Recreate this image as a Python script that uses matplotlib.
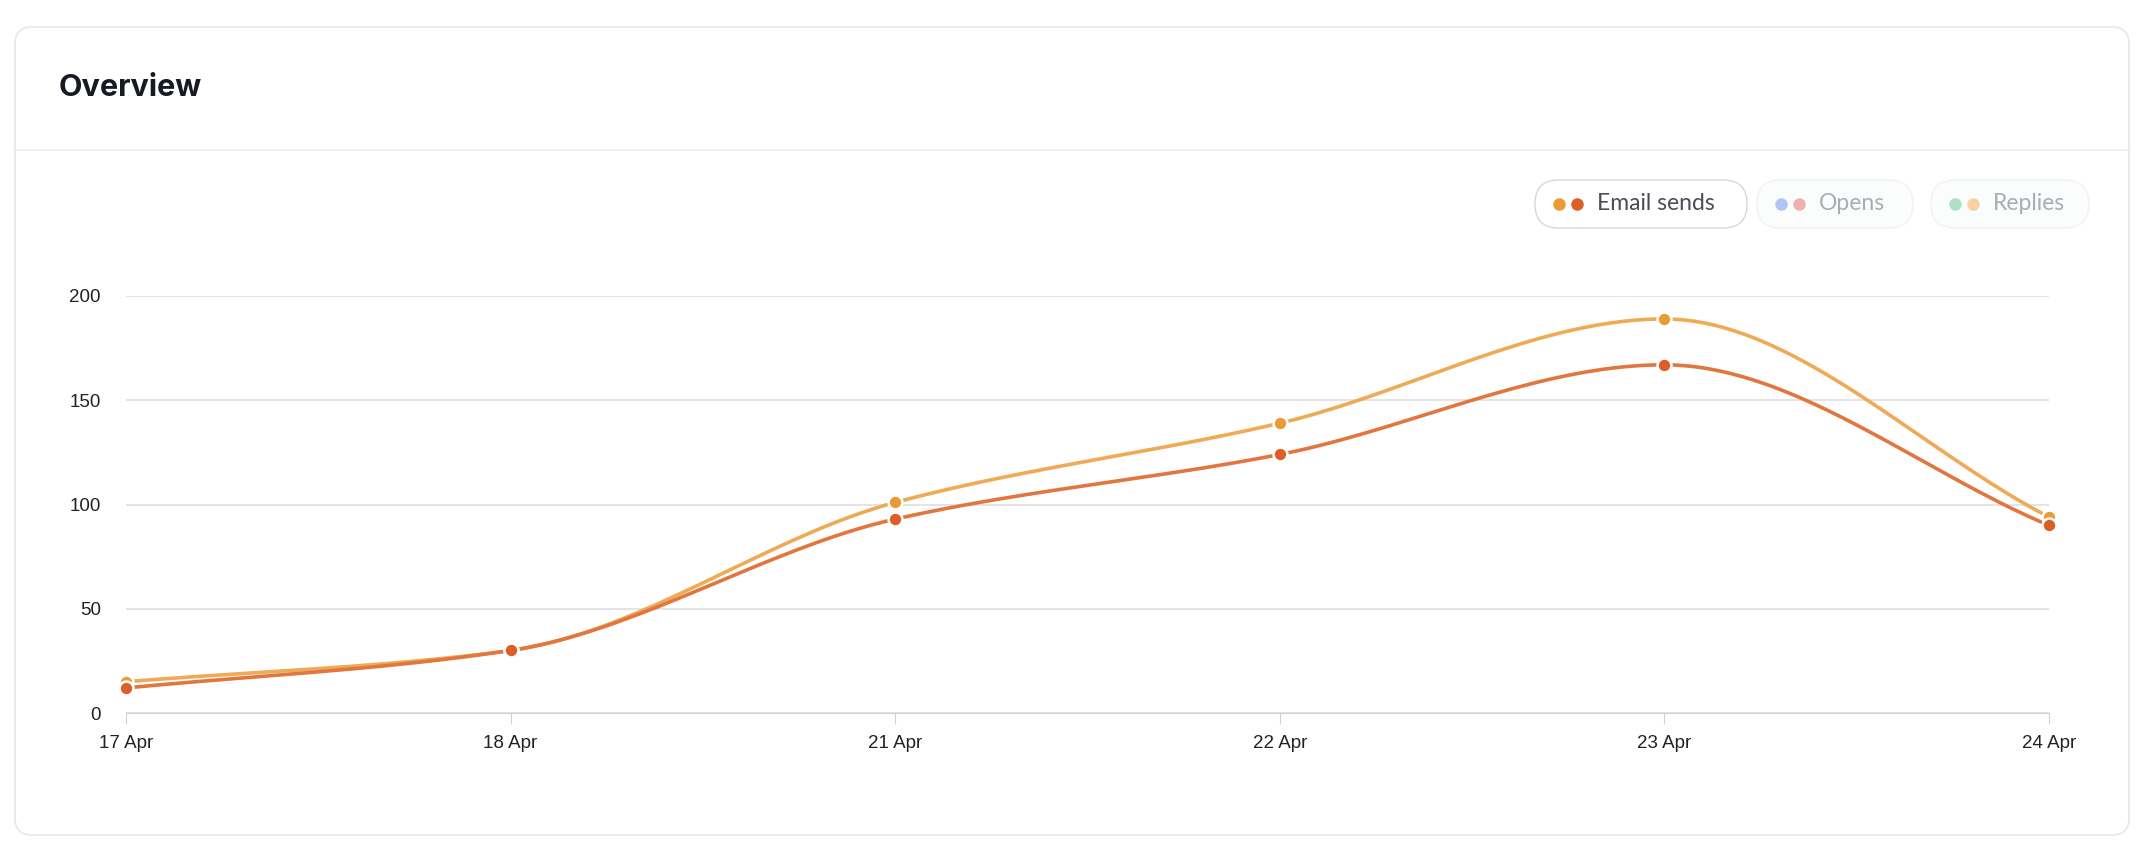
import numpy as np
import matplotlib.pyplot as plt
from matplotlib.patches import FancyBboxPatch

days = ['17 Apr', '18 Apr', '21 Apr', '22 Apr', '23 Apr', '24 Apr']
sends_a = [15, 30, 101, 139, 189, 94]
sends_b = [12, 30, 93, 124, 167, 90]
yticks = [0, 50, 100, 150, 200]

W, H = 2146, 850
plt.rcParams['font.family'] = ['Liberation Sans', 'DejaVu Sans']


def monotone(x, y, n=40):
    # Fritsch-Carlson monotone cubic, used for the smooth line path
    x = np.asarray(x, float); y = np.asarray(y, float)
    h = np.diff(x); d = np.diff(y) / h
    m = np.zeros_like(y)
    m[0], m[-1] = d[0], d[-1]
    for i in range(1, len(y) - 1):
        if d[i - 1] * d[i] <= 0:
            m[i] = 0
        else:
            m[i] = 2 / (1 / d[i - 1] + 1 / d[i])
    xs, ys = [], []
    for i in range(len(h)):
        t = np.linspace(0, 1, n)
        h00 = 2*t**3 - 3*t**2 + 1; h10 = t**3 - 2*t**2 + t
        h01 = -2*t**3 + 3*t**2; h11 = t**3 - t**2
        xs.append(x[i] + t*h[i])
        ys.append(h00*y[i] + h10*h[i]*m[i] + h01*y[i+1] + h11*h[i]*m[i+1])
    return np.concatenate(xs), np.concatenate(ys)


fig = plt.figure(figsize=(W/100, H/100), dpi=100)
fig.patch.set_facecolor('white')

card = FancyBboxPatch((15/W, 15/H), (2129-15)/W, (823-15)/H,
                      boxstyle='round,pad=0,rounding_size=0.008',
                      transform=fig.transFigure, facecolor='white',
                      edgecolor='#e6e7ea', linewidth=1.2, mutation_aspect=W/H,
                      zorder=-10)
fig.patches.append(card)
fig.add_artist(plt.Line2D([15/W, 2129/W], [1-150/H]*2, color='#eceef0', lw=1.2))
fig.text(59/W, 1-88/H, 'Overview', fontsize=22, fontweight='bold', color='#161a22',
         va='center', family=['Inter', 'DejaVu Sans'])

# legend pills
pills = [('Email sends', ['#ec9a36', '#dd5f28'], '#4a4d57', 1535, 1747, True),
         ('Opens', ['#aec5f5', '#eeb1ab'], '#a9acb3', 1757, 1913, False),
         ('Replies', ['#b0dfc7', '#f6d3a0'], '#a9acb3', 1931, 2089, False)]
for label, cols, tc, x0, x1, active in pills:
    p = FancyBboxPatch((x0/W, 1-228/H), (x1-x0)/W, 48/H,
                       boxstyle='round,pad=0,rounding_size=0.011',
                       transform=fig.transFigure, mutation_aspect=W/H,
                       facecolor='white' if active else '#fbfcfc',
                       edgecolor='#d6d7da' if active else '#f1f3f3', lw=1.0,
                       zorder=-5)
    fig.patches.append(p)
    cy = 1-204/H
    for k, c in enumerate(cols):
        fig.add_artist(plt.Line2D([(x0+24+k*18)/W], [cy], marker='o', ms=9,
                                  color=c, mec='none'))
    fig.text((x0+62)/W, cy, label, fontsize=16.5, color=tc, va='center',
             family=['Lato', 'DejaVu Sans'])

ax = fig.add_axes([126/W, 1-713/H, (2049-126)/W, (713-296)/H])
x = np.arange(len(days))
for vals, c, lc in [(sends_a, '#ec9a36', '#eeaa55'), (sends_b, '#dd5f28', '#e2763f')]:
    xs, ys = monotone(x, vals)
    ax.plot(xs, ys, color=lc, lw=2.6, zorder=3, solid_capstyle='round', clip_on=False)
    ax.plot(x, vals, 'o', ms=10, color=c, mec='white', mew=1.8, zorder=4, clip_on=False)

ax.set_xlim(0, len(days) - 1)
ax.set_ylim(0, 200)
ax.set_yticks(yticks)
ax.set_xticks(x, days)
ax.grid(axis='y', color='#dcdde0', lw=1.1)
ax.set_axisbelow(True)
for s in ['top', 'right', 'left']:
    ax.spines[s].set_visible(False)
ax.spines['bottom'].set_color('#cfd1d4')
ax.tick_params(axis='y', length=0, pad=18, labelsize=13.5, labelcolor='#222')
ax.tick_params(axis='x', length=8, color='#cfd1d4', pad=8, labelsize=13.5, labelcolor='#222')
ax.patch.set_alpha(0)

fig.savefig('out.png', dpi=100, facecolor='white')
